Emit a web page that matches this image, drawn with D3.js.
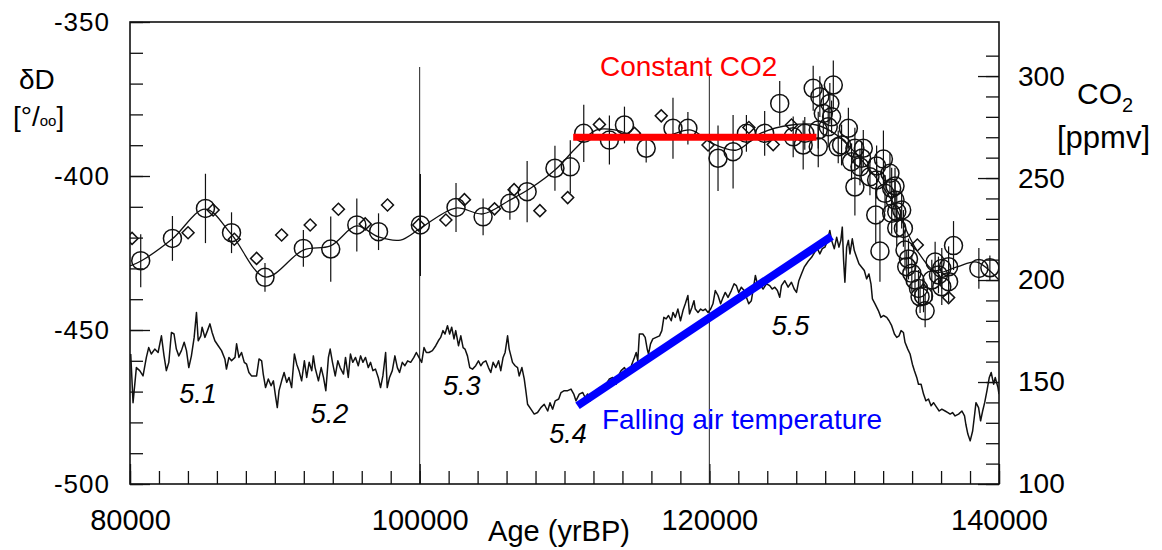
<!DOCTYPE html>
<html>
<head>
<meta charset="utf-8">
<script src="https://cdn.jsdelivr.net/npm/d3@7"></script>
<style>
  body { margin: 0; background: #fff; }
  svg text { font-family: "Liberation Sans", Arial, Helvetica, sans-serif; }
</style>
</head>
<body>
<svg id="chart" width="1162" height="550"></svg>
<script>
// ---------- données ----------

// courbe δD (‰), âge en années BP
let dDAge = [
  80050,80210,80440,80670,80900,81130,81290,81470,81710,81940,
  82170,82350,82510,82680,82860,83040,83200,83370,83550,83740,
  83900,84060,84240,84430,84590,84710,84890,84980,85170,85350,
  85520,85670,85860,86090,86320,86550,86660,86830,87010,87250,
  87360,87520,87700,87890,88050,88210,88390,88740,88910,89090,
  89200,89360,89550,89740,89900,90060,90170,90290,90470,90640,
  90820,90980,91160,91350,91510,91670,91850,92040,92200,92370,
  92550,92660,92780,93010,93200,93360,93520,93700,93820,93980,
  94170,94350,94510,94740,94880,95070,95220,95380,95570,95760,
  95920,96080,96260,96450,96610,96770,96950,97140,97300,97460,
  97650,97760,97920,98110,98290,98460,98610,98800,98980,99170,
  99380,99600,99770,99950,100140,100300,100460,100640,100880,101110,
  101290,101450,101610,101750,101920,102070,102210,102370,102490,102680,
  102840,103000,103130,103300,103460,103650,103870,104060,104220,104380,
  104570,104750,104910,105070,105260,105450,105600,105760,105900,106070,
  106180,106300,106410,106590,106760,106870,107060,107220,107330,107450,
  107680,107910,108140,108370,108600,108840,109000,109180,109360,109600,
  109760,109980,110220,110450,110640,110790,111020,111260,111420,111600,
  111780,111950,112180,112410,112640,112870,113100,113330,113560,113720,
  113910,114140,114320,114480,114650,114830,114950,115060,115170,115410,
  115570,115710,115800,115940,116100,116330,116560,116720,116860,117020,
  117180,117370,117490,117650,117830,118010,118180,118340,118520,118630,
  118800,118940,119030,119220,119400,119560,119720,119910,120090,120250,
  120410,120600,120780,120950,121100,121290,121520,121710,121870,122030,
  122210,122400,122560,122720,122900,123090,123180,123370,123550,123710,
  123940,124170,124340,124520,124700,124860,124980,125210,125440,125670,
  125860,126020,126180,126360,126550,126710,126870,127060,127280,127470,
  127630,127800,127980,128160,128320,128440,128630,128790,128950,129080,
  129180,129270,129360,129480,129600,129710,129870,130010,130170,130330,
  130520,130700,130860,131020,131160,131260,131440,131670,131850,132020,
  132250,132410,132590,132780,132940,133100,133240,133400,133510,133700,
  133860,134020,134160,134320,134440,134620,134790,134950,135130,135310,
  135480,135710,135870,136050,136280,136470,136630,136790,136970,137210,
  137440,137620,137710,137850,138010,138180,138320,138410,138590,138730,
  138870,139010,139170,139330,139460,139630,139740,139930,140000
];
let dDValue = [
  -457.8,-473.6,-462.2,-463.2,-464.9,-458.9,-455.7,-457.8,-456.2,-457.3,
  -451.9,-458.4,-463.2,-460.5,-450.8,-451.3,-456.2,-458.4,-456.7,-454.0,
  -456.7,-462.2,-458.4,-452.4,-444.3,-453.5,-451.9,-449.1,-452.4,-450.2,
  -448.0,-450.8,-453.5,-455.1,-456.7,-459.4,-462.7,-458.9,-460.0,-458.9,
  -454.5,-458.9,-457.3,-460.5,-461.1,-463.8,-464.9,-464.9,-459.4,-460.0,
  -464.3,-468.7,-465.9,-468.1,-466.5,-471.9,-475.2,-469.7,-466.5,-463.8,
  -467.0,-465.4,-468.7,-457.8,-461.1,-463.2,-466.5,-460.0,-465.4,-460.5,
  -463.2,-458.4,-462.2,-466.5,-462.2,-465.4,-469.7,-458.9,-456.2,-460.5,
  -464.9,-460.0,-462.2,-464.3,-458.9,-465.4,-457.8,-460.5,-458.9,-461.6,
  -458.4,-460.5,-458.9,-462.2,-460.5,-463.2,-462.7,-465.4,-468.7,-464.9,
  -457.3,-468.7,-465.4,-463.2,-458.4,-462.2,-463.8,-460.5,-461.6,-460.0,
  -460.5,-458.9,-457.3,-458.9,-460.5,-455.7,-457.3,-457.3,-456.7,-455.1,
  -453.5,-452.4,-450.2,-451.3,-448.6,-451.3,-449.1,-452.9,-450.2,-455.1,
  -451.9,-455.7,-456.2,-458.4,-462.2,-462.7,-461.6,-460.0,-461.6,-460.5,
  -460.0,-462.2,-463.8,-460.5,-462.2,-460.0,-463.2,-458.9,-457.3,-451.9,
  -456.2,-458.4,-460.5,-461.6,-462.2,-464.9,-462.2,-465.9,-469.7,-474.1,
  -475.7,-477.3,-476.8,-475.2,-474.1,-476.3,-473.6,-475.7,-473.0,-472.4,
  -470.3,-469.7,-469.7,-469.2,-470.8,-473.0,-470.8,-470.3,-471.9,-470.8,
  -473.0,-471.9,-470.8,-468.7,-469.7,-467.6,-465.9,-465.4,-467.6,-464.9,
  -463.2,-462.2,-463.8,-464.3,-461.1,-458.9,-457.3,-460.0,-451.3,-451.3,
  -452.4,-456.2,-457.8,-454.5,-452.9,-452.4,-451.9,-450.2,-445.9,-446.4,
  -445.3,-447.0,-444.3,-445.9,-443.2,-447.0,-443.7,-441.5,-438.8,-444.8,
  -442.6,-440.5,-443.2,-444.3,-443.2,-443.7,-443.2,-444.3,-443.2,-441.5,
  -437.2,-438.8,-441.5,-439.4,-437.8,-439.4,-437.2,-435.0,-435.6,-437.8,
  -436.1,-437.2,-439.4,-441.5,-440.5,-435.0,-432.3,-436.1,-435.6,-436.7,
  -435.0,-435.6,-436.7,-436.1,-437.2,-439.4,-435.6,-434.0,-436.1,-434.5,
  -436.7,-437.8,-434.0,-431.8,-429.6,-428.5,-427.4,-426.4,-424.7,-423.6,
  -425.3,-423.6,-423.1,-420.9,-417.7,-420.9,-423.6,-419.9,-423.1,-420.9,
  -416.6,-427.4,-434.5,-423.1,-420.9,-425.3,-420.4,-424.2,-426.4,-428.5,
  -429.6,-430.7,-433.4,-431.8,-435.0,-439.9,-441.5,-443.7,-445.9,-445.3,
  -445.9,-447.0,-448.6,-451.3,-452.4,-451.9,-450.2,-450.8,-454.0,-456.2,
  -457.8,-461.1,-463.2,-465.4,-467.6,-467.6,-470.8,-473.0,-472.4,-474.6,
  -473.6,-475.2,-476.3,-475.7,-476.3,-476.8,-477.3,-476.8,-477.9,-477.3,
  -476.3,-477.9,-480.6,-483.8,-486.0,-482.8,-477.3,-473.6,-475.2,-479.5,
  -476.3,-473.6,-469.7,-465.4,-463.8,-467.6,-465.4,-468.7,-470.8
];

// CO2 (ppmv) : cercles avec barres d'erreur
let co2Age = [
  80740,82930,85210,87010,89320,91970,93860,95660,97160,100050,
  102510,104380,106230,107420,109340,110400,111330,113100,114140,115640,
  117490,118520,120600,121640,122560,123820,124860,125790,126480,126590,
  127170,127520,127520,127630,127870,128210,128320,128440,128560,128900,
  129130,129600,129820,130050,130050,130400,130520,130630,131090,131490,
  131550,131550,131780,132020,132130,132470,132590,132590,132820,132820,
  132940,132940,133280,133400,133510,133630,133750,133980,134200,134440,
  134550,134790,134900,135360,135590,135820,136050,136050,136520,136520,
  136860,138610,139370
];
let co2Value = [
  209.5,220.4,235.1,223.2,201.3,215.5,215.2,227.0,223.7,227.0,
  235.6,231.0,237.6,243.3,254.8,255.5,271.9,268.6,276.0,264.6,
  274.4,274.4,259.7,262.9,271.9,271.9,286.6,270.2,266.2,271.9,
  294.0,265.3,273.5,289.9,281.7,275.1,286.6,280.0,295.6,265.3,
  266.2,274.4,258.0,264.6,245.6,255.5,259.7,264.6,250.6,231.9,
  255.9,249.0,214.2,259.3,242.5,252.3,245.0,232.7,246.1,239.2,
  233.5,225.5,234.3,225.3,214.7,206.5,210.3,203.3,200.0,195.9,
  191.8,192.2,184.9,200.0,208.8,202.5,205.7,196.7,199.2,206.5,
  216.9,205.7,206.0
];
let co2Err = [
  13,11,17,10,7,9,16,13,9,25,
  12,9,8,15,11,13,14,12,9,7,
  15,8,16,18,9,11,11,10,12,8,
  11,10,9,10,12,10,10,8,12,8,
  10,10,9,10,14,9,8,9,9,14,
  10,9,15,14,9,10,10,10,9,9,
  10,9,9,9,10,8,10,9,9,9,
  8,8,8,10,10,9,10,9,10,10,
  12,10,6
];

// CO2 (ppmv) : losanges
let co2DiamondAge = [
  80140,84010,85740,87200,88740,90470,92440,94390,96240,97780,
  99930,101810,103090,105170,106520,108300,110220,112410,114830,116680,
  119910,122730,124410,125670,134360,136520
];
let co2DiamondValue = [
  220.4,223.2,234.3,220.0,210.6,222.1,227.0,234.7,227.5,236.8,
  227.0,229.4,239.4,234.9,244.3,234.0,240.4,276.3,271.9,280.5,
  266.2,274.8,266.4,276.0,217.2,191.4
];

// courbe lissée CO2
let co2FitAge = [
  80000,80760,82910,85190,86990,89340,91970,93840,95640,97160,
  98680,100070,102490,104360,106230,107680,109340,110790,112180,113560,
  115290,117020,118750,120130,121870,123600,125670,127400,128790,130520,
  132590,134320,135710,137090,138480,140000
];
let co2FitValue = [
  206.9,209.3,220.1,234.8,222.5,201.5,214.7,216.7,226.5,221.1,
  219.6,225.5,235.3,232.4,239.2,245.1,253.9,264.7,273.5,273.5,
  269.6,270.6,273.5,267.2,263.7,272.1,276.0,276.0,271.1,258.8,
  239.2,214.7,203.9,206.4,208.8,200.0
];

// stades isotopiques (position en âge / δD)
let stageLabels = ["5.1", "5.2", "5.3", "5.4", "5.5"];
let stageAge    = [84700, 93770, 102910, 110240, 125600];
let stageDD     = [-470.4, -477.2, -468.1, -483.4, -448.6];

// annotations
let constantAge = [110600, 127400];   // ligne rouge, CO2 constant
let constantCO2 = 270;
let fallingAge = [110900, 128440];    // ligne bleue, sur l'axe δD
let fallingDD  = [-474.6, -419.6];

// graduations
let xMajorTicks = [80000, 100000, 120000, 140000];
let xMinorTicks = d3.range(80000, 140001, 2000);
let dDMajorTicks = [-500, -450, -400, -350];
let dDMinorTicks = d3.range(-500, -349, 10);
let co2MajorTicks = [100, 150, 200, 250, 300];
let co2MinorTicks = d3.range(100, 311, 10);


// ---------- échelles ----------
let L = 130, R = 999, T = 22, B = 484;

let x = d3.scaleLinear().domain([80000, 140000]).range([L, R]);
let yD = d3.scaleLinear().domain([-500, -350]).range([B, T]);
let yC = d3.scaleLinear().domain([100, 326.5]).range([B, T]);

let svg = d3.select("#chart");
svg.append("rect").attr("width", 1162).attr("height", 550).attr("fill", "#fff");

svg.append("defs").append("clipPath").attr("id", "plotClip")
  .append("rect").attr("x", L).attr("y", T).attr("width", R - L).attr("height", B - T);

// style commun des axes
function styleAxis(g, size) {
  g.select(".domain").remove();
  g.selectAll("line").attr("stroke", "#111").attr("stroke-width", 1.3);
  g.selectAll("text")
    .attr("fill", "#000")
    .style("font-family", '"Liberation Sans", Arial, sans-serif')
    .style("font-size", size + "px");
}

// axe gauche (δD), graduations vers l'intérieur
svg.append("g").attr("transform", `translate(${L},0)`)
  .call(d3.axisLeft(yD).tickValues(dDMinorTicks).tickSize(-13).tickFormat(() => ""))
  .call(g => styleAxis(g, 10));
svg.append("g").attr("transform", `translate(${L},0)`)
  .call(d3.axisLeft(yD).tickValues(dDMajorTicks).tickSize(-20).tickPadding(20).tickFormat(d => String(d)))
  .call(g => styleAxis(g, 26))
  .call(g => g.selectAll("text").style("letter-spacing", "1px"));

// axe droit (CO2)
svg.append("g").attr("transform", `translate(${R},0)`)
  .call(d3.axisRight(yC).tickValues(co2MinorTicks).tickSize(-13).tickFormat(() => ""))
  .call(g => styleAxis(g, 10));
svg.append("g").attr("transform", `translate(${R},0)`)
  .call(d3.axisRight(yC).tickValues(co2MajorTicks).tickSize(-21).tickPadding(19).tickFormat(d => String(d)))
  .call(g => styleAxis(g, 28));

// axe du bas (âge)
svg.append("g").attr("transform", `translate(0,${B})`)
  .call(d3.axisBottom(x).tickValues(xMinorTicks).tickSize(-13).tickFormat(() => ""))
  .call(g => styleAxis(g, 10));
svg.append("g").attr("transform", `translate(0,${B})`)
  .call(d3.axisBottom(x).tickValues(xMajorTicks).tickSize(-20).tickPadding(25).tickFormat(d => String(d)))
  .call(g => styleAxis(g, 29));

// lignes verticales à 100000 et 120000
svg.append("line").attr("x1", x(100000)).attr("x2", x(100000)).attr("y1", 67).attr("y2", B)
  .attr("stroke", "#222").attr("stroke-width", 1);
svg.append("line").attr("x1", x(120000)).attr("x2", x(120000)).attr("y1", 75).attr("y2", B)
  .attr("stroke", "#222").attr("stroke-width", 1);

// cadre
svg.append("rect").attr("x", L).attr("y", T).attr("width", R - L).attr("height", B - T)
  .attr("fill", "none").attr("stroke", "#111").attr("stroke-width", 1.6);

let plot = svg.append("g").attr("clip-path", "url(#plotClip)");

// courbe δD
let dDData = d3.zip(dDAge, dDValue);
plot.append("path")
  .datum(dDData)
  .attr("fill", "none").attr("stroke", "#111").attr("stroke-width", 1.5)
  .attr("stroke-linejoin", "round")
  .attr("d", d3.line().x(d => x(d[0])).y(d => yD(d[1])));

// courbe lissée CO2
plot.append("path")
  .datum(d3.zip(co2FitAge, co2FitValue))
  .attr("fill", "none").attr("stroke", "#111").attr("stroke-width", 1.3)
  .attr("d", d3.line().curve(d3.curveCatmullRom.alpha(0.5)).x(d => x(d[0])).y(d => yC(d[1])));

// barres d'erreur + cercles
let co2Data = co2Age.map((a, i) => ({ age: a, v: co2Value[i], e: co2Err[i] }));
plot.selectAll("line.err").data(co2Data).join("line")
  .attr("class", "err")
  .attr("x1", d => x(d.age)).attr("x2", d => x(d.age))
  .attr("y1", d => yC(d.v - d.e)).attr("y2", d => yC(d.v + d.e))
  .attr("stroke", "#111").attr("stroke-width", 1.2);
plot.selectAll("circle.co2").data(co2Data).join("circle")
  .attr("class", "co2")
  .attr("cx", d => x(d.age)).attr("cy", d => yC(d.v)).attr("r", 9)
  .attr("fill", "none").attr("stroke", "#111").attr("stroke-width", 1.5);

// losanges
let diamond = d3.symbol().type(d3.symbolSquare).size(72);
plot.selectAll("path.dia").data(d3.zip(co2DiamondAge, co2DiamondValue)).join("path")
  .attr("class", "dia")
  .attr("d", diamond)
  .attr("transform", d => `translate(${x(d[0])},${yC(d[1])}) rotate(45)`)
  .attr("fill", "none").attr("stroke", "#111").attr("stroke-width", 1.5);

// annotations colorées
svg.append("line")
  .attr("x1", x(constantAge[0])).attr("x2", x(constantAge[1]))
  .attr("y1", yC(constantCO2)).attr("y2", yC(constantCO2))
  .attr("stroke", "#ff0000").attr("stroke-width", 7);
svg.append("line")
  .attr("x1", x(fallingAge[0])).attr("x2", x(fallingAge[1]))
  .attr("y1", yD(fallingDD[0])).attr("y2", yD(fallingDD[1]))
  .attr("stroke", "#0000ff").attr("stroke-width", 8);

svg.append("text").attr("x", 600).attr("y", 76)
  .attr("fill", "#ff0000").style("font-size", "28px").text("Constant CO2");
svg.append("text").attr("x", 602).attr("y", 429)
  .attr("fill", "#0000ff").style("font-size", "28px").text("Falling air temperature");

// étiquettes des stades
svg.selectAll("text.stage").data(stageLabels).join("text")
  .attr("class", "stage")
  .attr("x", (d, i) => x(stageAge[i])).attr("y", (d, i) => yD(stageDD[i]))
  .attr("dy", "0.36em").attr("text-anchor", "middle")
  .style("font-size", "27px").style("font-style", "italic").attr("fill", "#000")
  .text(d => d);

// titres d'axes
svg.append("text").attr("x", 19).attr("y", 89).style("font-size", "28px").attr("fill", "#000").text("δD");
let perm = svg.append("text").attr("x", 13).attr("y", 126).style("font-size", "28px").attr("fill", "#000");
perm.append("tspan").text("[°/");
perm.append("tspan").style("font-size", "15px").text("oo");
perm.append("tspan").text("]");

let co2t = svg.append("text").attr("x", 1077).attr("y", 104).style("font-size", "30px").attr("fill", "#000");
co2t.append("tspan").text("CO");
co2t.append("tspan").attr("dy", 8).style("font-size", "20px").text("2");
svg.append("text").attr("x", 1057).attr("y", 148).style("font-size", "31px").attr("fill", "#000").text("[ppmv]");

svg.append("text").attr("x", 559).attr("y", 541).attr("text-anchor", "middle")
  .style("font-size", "29px").attr("fill", "#000").text("Age (yrBP)");
</script>
</body>
</html>
